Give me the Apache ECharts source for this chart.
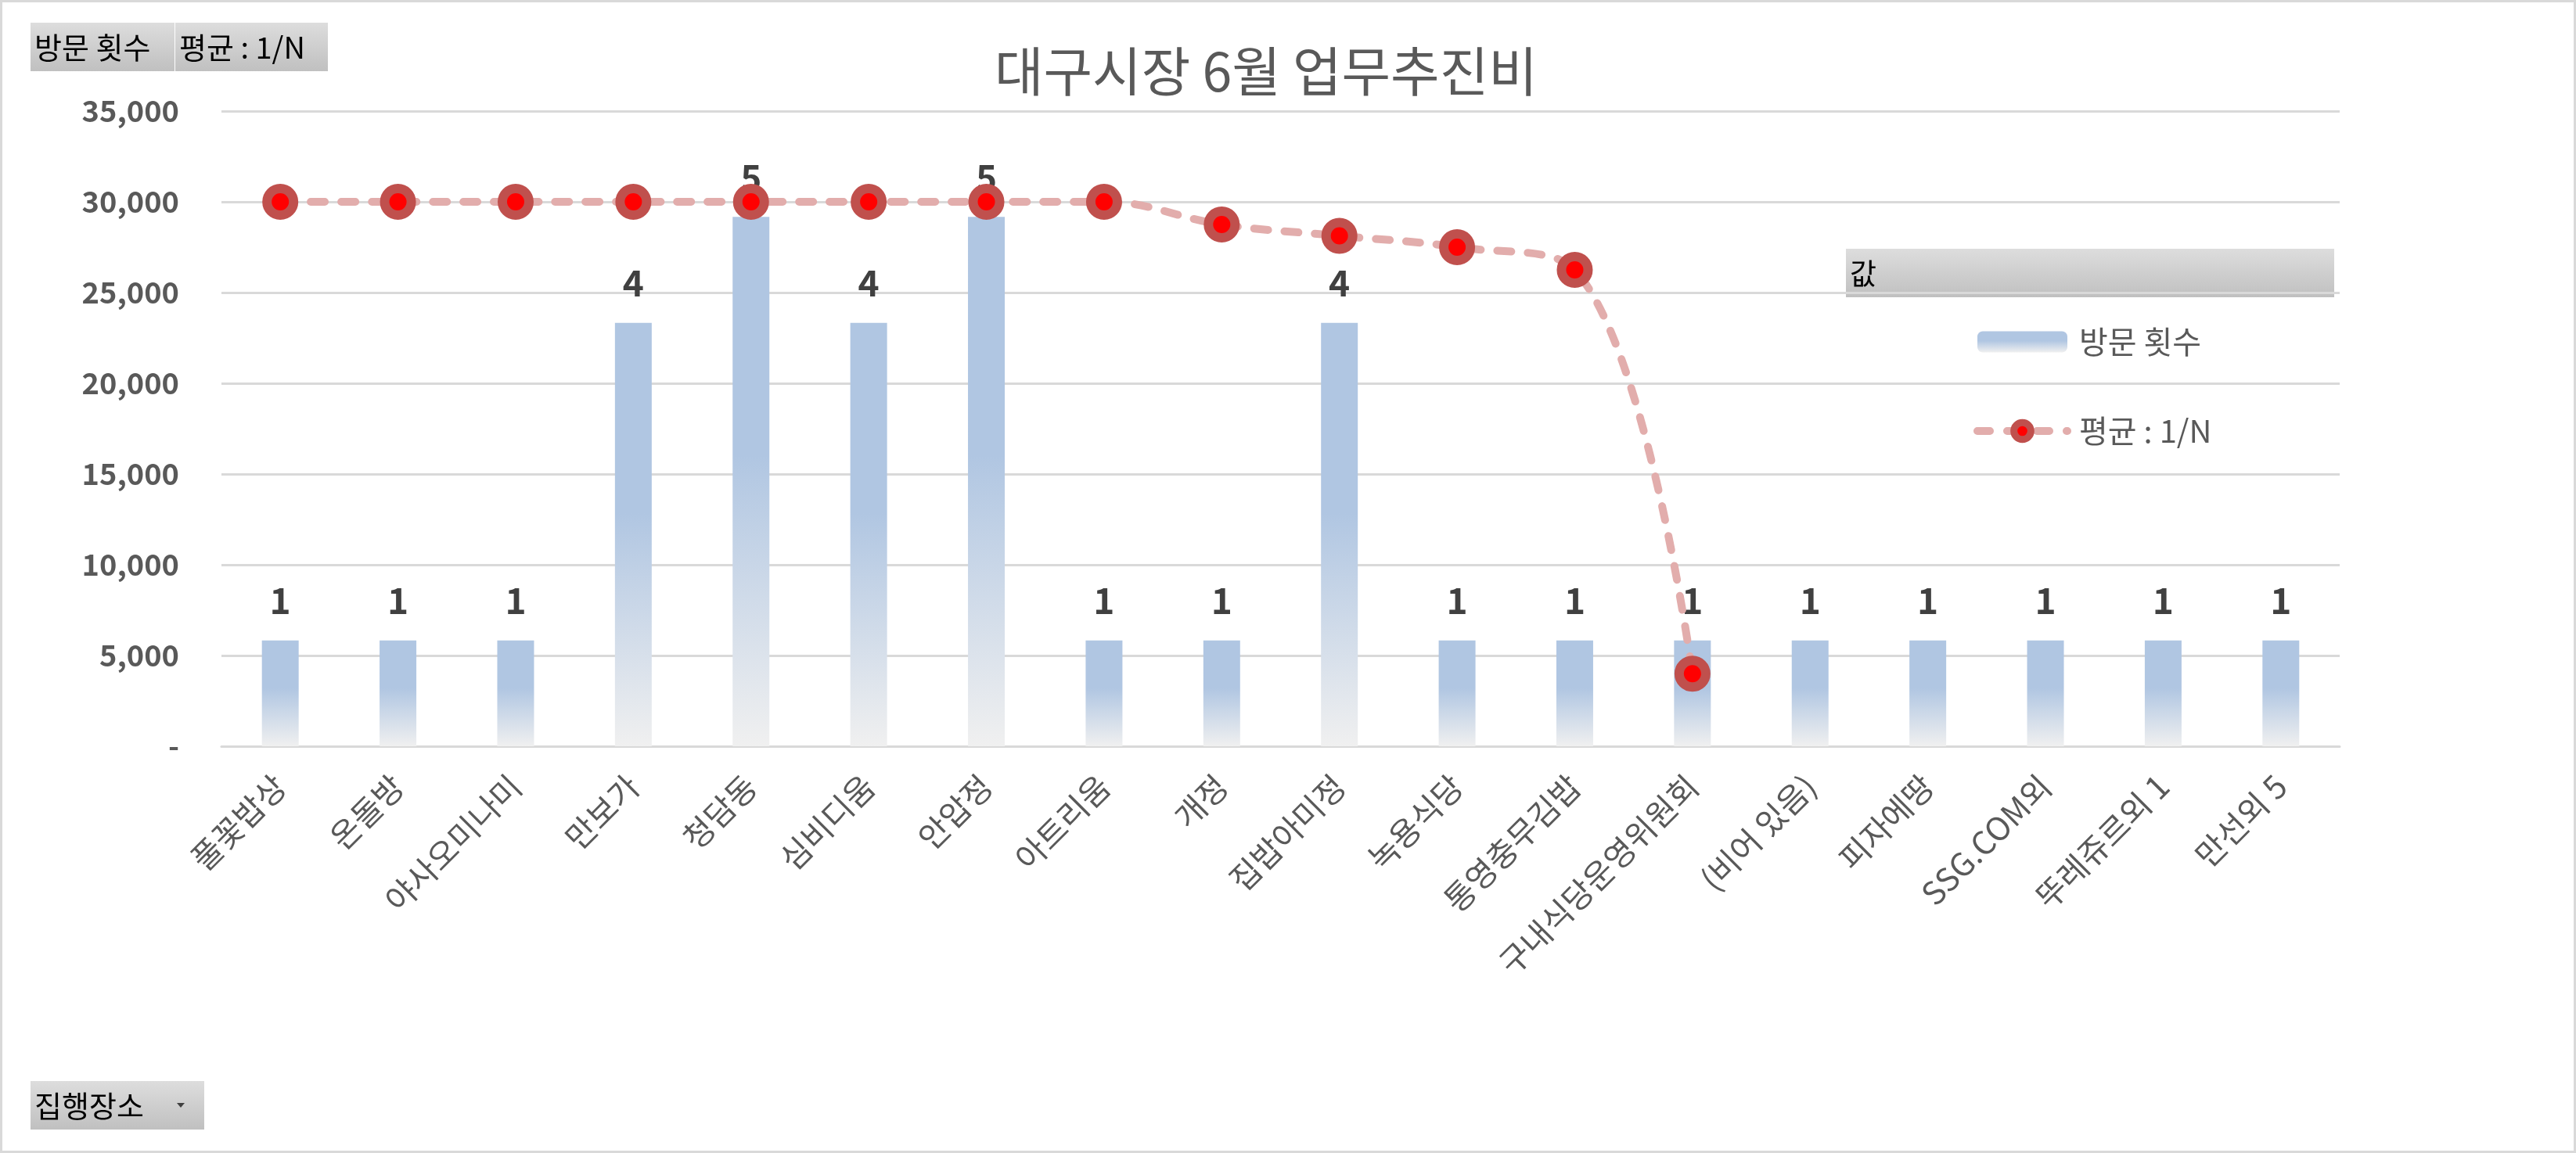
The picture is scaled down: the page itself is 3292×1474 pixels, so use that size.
<!DOCTYPE html>
<html>
<head>
<meta charset="utf-8">
<script src="https://cdn.jsdelivr.net/npm/echarts@6/dist/echarts.min.js"></script>
<style>
    html, body { margin: 0; padding: 0; background: #fff; }
    #chart { width: 3292px; height: 1474px; }
</style>
</head>
<body>
<div id="chart"></div>
<script>
// 집행장소
var places = ['풀꽃밥상', '온돌방', '야사오미나미', '만보가', '청담동', '심비디움', '안압정', '아트리움', '개정',
    '집밥아미정', '녹용식당', '통영충무김밥', '구내식당운영위원회', '(비어 있음)', '피자에땅', 'SSG.COM외', '뚜레쥬르외 1', '만선외 5'];
// 방문 횟수
var visits = [1, 1, 1, 4, 5, 4, 5, 1, 1, 4, 1, 1, 1, 1, 1, 1, 1, 1];
// 평균 : 1/N
var avgCost = [30000, 30000, 30000, 30000, 30000, 30000, 30000, 30000, 28750, 28125, 27500, 26250, 4000,
    null, null, null, null, null];
// 축 눈금
var costTicks = [0, 5000, 10000, 15000, 20000, 25000, 30000, 35000];
var visitMax = 6;

var FONT = '"Noto Sans CJK KR", "Noto Sans", sans-serif';

var myChart = echarts.init(document.getElementById('chart'));

var buttonFill = new echarts.graphic.LinearGradient(0, 0, 0, 1, [
    {offset: 0, color: '#dddddd'},
    {offset: 1, color: '#c0c0c0'}
]);

function button(x, y, w, h, text, size) {
    return [
        {type: 'rect', shape: {x: x, y: y, width: w, height: h}, style: {fill: buttonFill}},
        {type: 'text', x: x + 5, y: y + h / 2 + 1,
            style: {text: text, fill: '#000', fontSize: size, fontFamily: FONT, verticalAlign: 'middle'}}
    ];
}

var graphics = [].concat(
    [{type: 'rect', shape: {x: 1.5, y: 1.5, width: 3289, height: 1471}, style: {fill: 'none', stroke: '#d9d9d9', lineWidth: 3}}],
    button(39, 29, 184, 62, '방문 횟수', 38),
    button(224, 29, 195, 62, '평균 : 1/N', 38),
    button(2359, 318, 624, 62, '값', 37),
    button(39, 1382, 222, 62, '집행장소', 38),
    [{type: 'polygon', shape: {points: [[226, 1410], [236, 1410], [231, 1416]]}, style: {fill: '#404040'}}]
);

myChart.setOption({
    animation: false,
    backgroundColor: '#fff',
    title: {
        text: '대구시장 6월 업무추진비',
        left: 1266,
        top: 52,
        textStyle: {
            fontSize: 68,
            fontWeight: 'normal',
            color: '#595959',
            fontFamily: FONT
        }
    },
    legend: {
        orient: 'vertical',
        left: 2517,
        top: 412,
        itemWidth: 115,
        itemHeight: 27,
        itemGap: 74,
        textStyle: {
            fontSize: 40,
            color: '#595959',
            fontFamily: FONT,
            padding: [0, 0, 0, 10]
        },
        data: [
            {name: '방문 횟수'},
            {
                name: '평균 : 1/N',
                itemStyle: {borderWidth: 9},
                lineStyle: {width: 10, type: [16, 22], cap: 'round'}
            }
        ]
    },
    graphic: graphics,
    grid: {
        left: 283,
        right: 302,
        top: 142,
        bottom: 520,
        containLabel: false
    },
    xAxis: {
        type: 'category',
        data: places,
        axisTick: {show: false},
        axisLine: {lineStyle: {color: '#d9d9d9', width: 3}},
        axisLabel: {
            rotate: 45,
            interval: 0,
            margin: 44,
            fontSize: 41,
            color: '#595959',
            fontFamily: FONT
        }
    },
    yAxis: [
        {
            type: 'value',
            min: costTicks[0],
            max: costTicks[costTicks.length - 1],
            interval: costTicks[1] - costTicks[0],
            axisLine: {show: false},
            axisTick: {show: false},
            splitLine: {lineStyle: {color: '#d9d9d9', width: 3}},
            axisLabel: {
                margin: 54,
                fontSize: 38,
                fontWeight: 'bold',
                color: '#595959',
                fontFamily: FONT,
                formatter: function (v) {
                    return v === 0 ? '-' : v.toLocaleString('en-US');
                }
            }
        },
        {
            type: 'value',
            min: 0,
            max: visitMax,
            show: false,
            splitLine: {show: false}
        }
    ],
    series: [
        {
            name: '방문 횟수',
            type: 'bar',
            yAxisIndex: 1,
            data: visits,
            barWidth: 47,
            itemStyle: {
                color: new echarts.graphic.LinearGradient(0, 0, 0, 1, [
                    {offset: 0, color: '#b0c6e2'},
                    {offset: 0.45, color: '#b0c6e2'},
                    {offset: 1, color: '#f0f0f0'}
                ])
            },
            label: {
                show: true,
                position: 'top',
                distance: 28,
                fontSize: 46,
                fontWeight: 'bold',
                color: '#404040',
                fontFamily: FONT
            },
            z: 2
        },
        {
            name: '평균 : 1/N',
            type: 'line',
            data: avgCost,
            smooth: 0.4,
            symbol: 'circle',
            symbolSize: 34,
            lineStyle: {
                color: '#e2adac',
                width: 10,
                type: [18, 21],
                cap: 'round'
            },
            itemStyle: {
                color: '#ff0000',
                borderColor: '#c0504d',
                borderWidth: 12
            },
            z: 3
        }
    ]
});
</script>
</body>
</html>
